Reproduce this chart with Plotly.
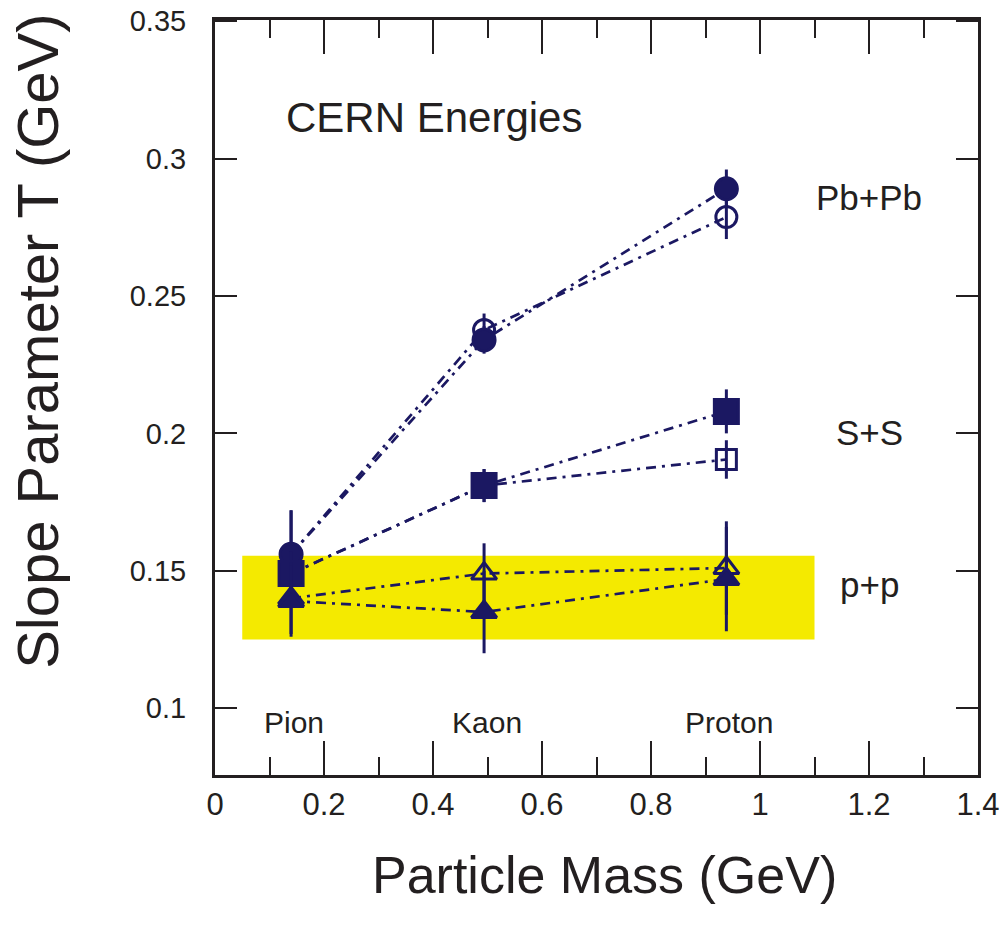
import plotly.graph_objects as go

# ---- data ----
particles = ["Pion", "Kaon", "Proton"]
mass = [0.1396, 0.4937, 0.9383]

pbpb_filled = [0.156, 0.234, 0.289]
pbpb_filled_err = [0.016, 0.005, 0.007]
pbpb_open = [0.156, 0.2376, 0.2787]
pbpb_open_err = [0.016, 0.006, 0.008]

ss_filled = [0.149, 0.181, 0.208]
ss_filled_err = [0.008, 0.006, 0.008]
ss_open = [0.149, 0.181, 0.1905]
ss_open_err = [0.008, 0.006, 0.007]

pp_filled = [0.139, 0.135, 0.147]
pp_filled_err = [0.013, 0.015, 0.019]
pp_open = [0.140, 0.149, 0.151]
pp_open_err = [0.013, 0.011, 0.017]

band_x = [0.05, 1.10]
band_y = [0.125, 0.1555]

systems = ["Pb+Pb", "S+S", "p+p"]

x_ticks = [0, 0.2, 0.4, 0.6, 0.8, 1.0, 1.2, 1.4]
x_tick_labels = ["0", "0.2", "0.4", "0.6", "0.8", "1", "1.2", "1.4"]
y_ticks = [0.1, 0.15, 0.2, 0.25, 0.3, 0.35]
y_tick_labels = ["0.1", "0.15", "0.2", "0.25", "0.3", "0.35"]

NAVY = "#1b1862"
INK = "#231f20"
DASH = "10px,6px,3px,6px"

fig = go.Figure()

fig.add_shape(type="rect", xref="x", yref="y",
              x0=band_x[0], x1=band_x[1], y0=band_y[0], y1=band_y[1],
              fillcolor="#f4ea00", line=dict(width=0), layer="below")


def add_series(y, err, symbols, size):
    fig.add_trace(go.Scatter(
        x=mass, y=y, mode="lines+markers",
        line=dict(color=NAVY, width=2.7, dash=DASH),
        marker=dict(symbol=symbols, size=size, color=NAVY,
                    line=dict(color=NAVY, width=3)),
        error_y=dict(type="data", array=err, visible=True,
                     color=NAVY, thickness=3, width=0),
        showlegend=False, cliponaxis=False))


add_series(pbpb_open, pbpb_open_err, ["circle", "circle-open", "circle-open"], 21)
add_series(pbpb_filled, pbpb_filled_err, "circle", 22)
add_series(ss_open, ss_open_err, ["square", "square", "square-open"], 20)
add_series(ss_filled, ss_filled_err, "square", 24)
add_series(pp_open, pp_open_err, ["triangle-up", "triangle-up-open", "triangle-up-open"], 22)
add_series(pp_filled, pp_filled_err, "triangle-up", 22)

FONT = "Liberation Sans, Arial, Helvetica, sans-serif"

annotations = [
    dict(x=0.402, y=0.3150, text="CERN Energies", font=dict(size=42)),
    dict(x=1.200, y=0.2857, text=systems[0], font=dict(size=35)),
    dict(x=1.200, y=0.2003, text=systems[1], font=dict(size=35)),
    dict(x=1.200, y=0.1450, text=systems[2], font=dict(size=35)),
]
for m, name in zip(mass, particles):
    annotations.append(dict(x=m + 0.005, y=0.0948, text=name, font=dict(size=30)))
for a in annotations:
    a.update(xref="x", yref="y", showarrow=False, xanchor="center", yanchor="middle")
    a["font"].update(family=FONT, color=INK)

annotations.append(dict(xref="paper", yref="paper", x=0.511, y=-0.132,
                        text="Particle Mass (GeV)", showarrow=False,
                        xanchor="center", yanchor="middle",
                        font=dict(family=FONT, size=52, color=INK)))
annotations.append(dict(xref="paper", yref="paper", x=-0.232, y=0.575,
                        text="Slope Parameter T (GeV)", showarrow=False,
                        textangle=-90, xanchor="center", yanchor="middle",
                        font=dict(family=FONT, size=58, color=INK)))

fig.update_layout(
    width=1003, height=931,
    margin=dict(l=215, r=25, t=20, b=156, autoexpand=False),
    paper_bgcolor="white", plot_bgcolor="white",
    annotations=annotations,
    xaxis=dict(range=[0, 1.4], tickmode="array", tickvals=x_ticks, ticktext=x_tick_labels,
               ticks="inside", ticklen=34, tickwidth=1.5, tickcolor=INK,
               minor=dict(dtick=0.1, tick0=0, ticks="inside", ticklen=18, tickwidth=1.5, tickcolor=INK),
               showline=True, linewidth=3, linecolor=INK, mirror="allticks",
               showgrid=False, zeroline=False, automargin=False,
               tickfont=dict(family=FONT, size=31, color=INK),
               ticklabelstandoff=0, ticklabeloverflow="allow"),
    yaxis=dict(range=[0.0757, 0.3504], tickmode="array", tickvals=y_ticks, ticktext=y_tick_labels,
               ticks="inside", ticklen=22, tickwidth=1.5, tickcolor=INK,
               showline=True, linewidth=3, linecolor=INK, mirror="allticks",
               showgrid=False, zeroline=False, automargin=False,
               tickfont=dict(family=FONT, size=29, color=INK),
               ticklabelstandoff=20, ticklabeloverflow="allow"),
)

fig.write_html("out.html",
               config={"displayModeBar": False},
               post_script="document.body.style.margin='0px';document.body.style.overflow='hidden';")
